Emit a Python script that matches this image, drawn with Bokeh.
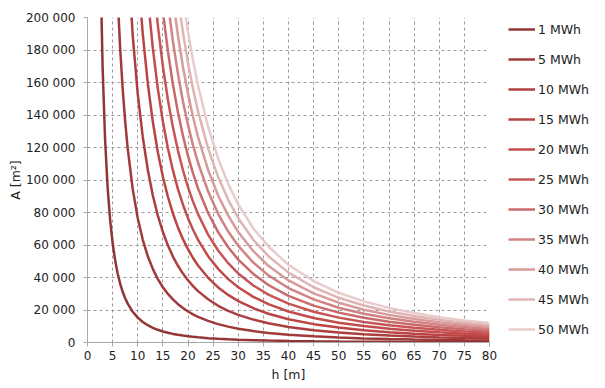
import numpy as np
from bokeh.plotting import figure
from bokeh.models import Legend, LegendItem, FixedTicker
from bokeh.embed import file_html
from bokeh.resources import INLINE

# ---- data ----
energies = ["1 MWh", "5 MWh", "10 MWh", "15 MWh", "20 MWh", "25 MWh",
            "30 MWh", "35 MWh", "40 MWh", "45 MWh", "50 MWh"]

h_values = [2.5, 3, 3.5, 4, 4.5, 5, 5.5, 6, 6.5, 7, 7.5, 8, 9, 10, 11, 12, 13, 14,
            15, 16, 17, 18, 19, 20, 21, 22, 24, 26, 28, 30, 33, 36, 40, 45, 50,
            55, 60, 65, 70, 75, 80]

# each series covers the tail of h_values (its first point lies just above the chart)
a_1 = [244800, 170000, 124900, 95630, 75560, 61200, 50580, 42500, 36210, 31220, 27200, 23910,
       18890, 15300, 12640, 10630, 9050, 7810, 6800, 5980, 5290, 4720, 4240, 3830, 3470, 3160,
       2660, 2260, 1950, 1700, 1400, 1180, 960, 760, 610, 510, 430, 360, 310, 270, 240]
a_5 = [212500, 181100, 156100, 136000, 119500,
       94400, 76500, 63200, 53100, 45300, 39000, 34000, 29900, 26500, 23600, 21200, 19100, 17300, 15800,
       13300, 11300, 9760, 8500, 7030, 5900, 4780, 3780, 3060, 2530, 2130, 1810, 1560, 1360, 1200]
a_10 = [239100,
        188900, 153000, 126500, 106300, 90500, 78100, 68000, 59800, 52900, 47200, 42400, 38300, 34700, 31600,
        26600, 22600, 19500, 17000, 14100, 11800, 9560, 7560, 6120, 5060, 4250, 3620, 3120, 2720, 2390]
a_15 = [229500, 189700, 159400, 135800, 117100, 102000, 89700, 79400, 70800, 63600, 57400, 52000, 47400,
        39800, 33900, 29300, 25500, 21100, 17700, 14300, 11300, 9180, 7590, 6380, 5430, 4680, 4080, 3590]
a_20 = [212500, 181100, 156100, 136000, 119500, 105900, 94400, 84800, 76500, 69400, 63200,
        53100, 45300, 39000, 34000, 28100, 23600, 19100, 15100, 12200, 10100, 8500, 7240, 6240, 5440, 4780]
a_25 = [226300, 195200, 170000, 149400, 132400, 118100, 106000, 95600, 86700, 79000,
        66400, 56600, 48800, 42500, 35100, 29500, 23900, 18900, 15300, 12600, 10600, 9050, 7800, 6800, 5980]
a_30 = [204000, 179300, 158800, 141700, 127100, 114800, 104100, 94800,
        79700, 67900, 58600, 51000, 42200, 35400, 28700, 22700, 18400, 15200, 12800, 10900, 9360, 8160, 7170]
a_35 = [209200, 185300, 165300, 148300, 133900, 121400, 110600,
        93000, 79200, 68300, 59500, 49200, 41300, 33500, 26500, 21400, 17700, 14900, 12700, 10900, 9520, 8370]
a_40 = [211800, 188900, 169500, 153000, 138800, 126400,
        106200, 90500, 78100, 68000, 56200, 47200, 38200, 30200, 24500, 20200, 17000, 14500, 12500, 10900, 9560]
a_45 = [212500, 190700, 172100, 156100, 142200,
        119500, 101800, 87800, 76500, 63200, 53100, 43000, 34000, 27500, 22800, 19100, 16300, 14000, 12200, 10800]
a_50 = [211900, 191300, 173500, 158100,
        132800, 113200, 97600, 85000, 70300, 59100, 47800, 37800, 30600, 25300, 21300, 18100, 15600, 13600, 11950]

series = [a_1, a_5, a_10, a_15, a_20, a_25, a_30, a_35, a_40, a_45, a_50]

x_ticks = [0, 5, 10, 15, 20, 25, 30, 35, 40, 45, 50, 55, 60, 65, 70, 75, 80]
y_ticks = [0, 20000, 40000, 60000, 80000, 100000, 120000, 140000, 160000, 180000, 200000]
y_tick_labels = ["0", "20 000", "40 000", "60 000", "80 000", "100 000", "120 000",
                 "140 000", "160 000", "180 000", "200 000"]

# ---- styles ----
colors = ["#8c2a2a", "#9a2f2f", "#a83434", "#b63a3a", "#bf4242", "#c44c4c",
          "#c86262", "#cf7b7b", "#d79595", "#dfb0b0", "#e8c8c8"]
FONT = "DejaVu Sans"

p = figure(frame_width=402, frame_height=325, x_range=(0, 80), y_range=(0, 200000),
           output_backend="svg", toolbar_location=None,
           min_border_left=87, min_border_top=17, min_border_bottom=40, min_border_right=100)
p.outline_line_color = None
p.background_fill_color = "white"

items = []
for name, vals, col in zip(energies, series, colors):
    hs = h_values[-len(vals):]
    r = p.line(hs, vals, line_color=col, line_width=2.5, line_alpha=0.95)
    items.append(LegendItem(label=name, renderers=[r]))

legend = Legend(items=items, location=(19, 3), padding=0, margin=0, spacing=10,
                glyph_width=27, glyph_height=20, label_height=20, label_standoff=3,
                label_text_font=FONT, label_text_font_size="12.5px", label_text_color="#222222",
                background_fill_alpha=0, border_line_alpha=0)
p.add_layout(legend, "right")

for ax in (p.xaxis[0], p.yaxis[0]):
    ax.axis_line_color = "#a8a8a8"
    ax.major_tick_line_color = "#a8a8a8"
    ax.major_tick_in = 0
    ax.major_tick_out = 4
    ax.minor_tick_line_color = None
    ax.major_label_text_font = FONT
    ax.major_label_text_font_size = "12px"
    ax.major_label_text_color = "#222222"
    ax.axis_label_text_font = FONT
    ax.axis_label_text_font_size = "12.5px"
    ax.axis_label_text_font_style = "normal"
    ax.axis_label_text_color = "#222222"

p.xaxis.ticker = FixedTicker(ticks=x_ticks)
p.yaxis.ticker = FixedTicker(ticks=y_ticks)
p.yaxis.major_label_overrides = {t: s for t, s in zip(y_ticks, y_tick_labels)}
p.xaxis.axis_label = "h [m]"
p.yaxis.axis_label = "A [m²]"
p.xaxis.major_label_standoff = 4
p.yaxis.major_label_standoff = 8
p.xaxis.axis_label_standoff = 4
p.yaxis.axis_label_standoff = 0

for g in (p.xgrid[0], p.ygrid[0]):
    g.grid_line_color = "#9a9a9a"
    g.grid_line_dash = "3 3"
    g.grid_line_width = 1
p.xgrid.ticker = FixedTicker(ticks=x_ticks)
p.ygrid.ticker = FixedTicker(ticks=y_ticks)

open("out.html", "w").write(file_html(p, INLINE))
